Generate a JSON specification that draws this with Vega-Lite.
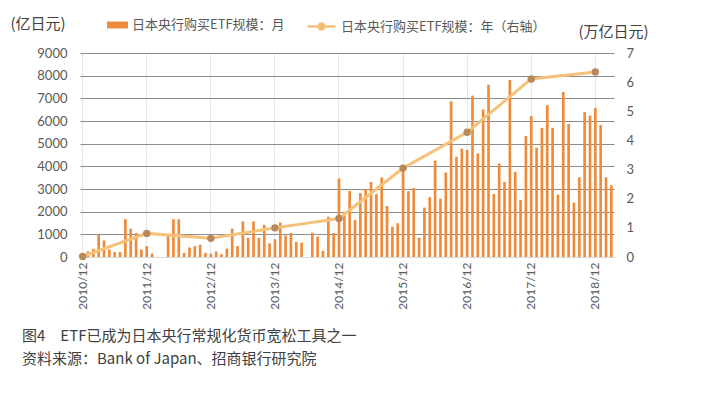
{
  "$schema": "https://vega.github.io/schema/vega-lite/v6.json",
  "width": 534,
  "height": 204,
  "autosize": {"type": "none"},
  "padding": {"left": 80, "top": 53, "right": 113, "bottom": 136},
  "background": "white",
  "config": {"view": {"stroke": null}, "font": "Noto Sans CJK SC"},
  "datasets": {
    "monthly": [
      {"month": "2010-12", "value": 140},
      {"month": "2011-01", "value": 250}, {"month": "2011-02", "value": 360}, {"month": "2011-03", "value": 970},
      {"month": "2011-04", "value": 730}, {"month": "2011-05", "value": 330}, {"month": "2011-06", "value": 220},
      {"month": "2011-07", "value": 220}, {"month": "2011-08", "value": 1670}, {"month": "2011-09", "value": 1250},
      {"month": "2011-10", "value": 1060}, {"month": "2011-11", "value": 330}, {"month": "2011-12", "value": 480},
      {"month": "2012-01", "value": 150}, {"month": "2012-02", "value": 0}, {"month": "2012-03", "value": 0},
      {"month": "2012-04", "value": 970}, {"month": "2012-05", "value": 1670}, {"month": "2012-06", "value": 1670},
      {"month": "2012-07", "value": 180}, {"month": "2012-08", "value": 420}, {"month": "2012-09", "value": 480},
      {"month": "2012-10", "value": 540}, {"month": "2012-11", "value": 180}, {"month": "2012-12", "value": 150},
      {"month": "2013-01", "value": 240}, {"month": "2013-02", "value": 120}, {"month": "2013-03", "value": 370},
      {"month": "2013-04", "value": 1250}, {"month": "2013-05", "value": 480}, {"month": "2013-06", "value": 1570},
      {"month": "2013-07", "value": 850}, {"month": "2013-08", "value": 1570}, {"month": "2013-09", "value": 850},
      {"month": "2013-10", "value": 1420}, {"month": "2013-11", "value": 600}, {"month": "2013-12", "value": 780},
      {"month": "2014-01", "value": 1520}, {"month": "2014-02", "value": 950}, {"month": "2014-03", "value": 1060},
      {"month": "2014-04", "value": 670}, {"month": "2014-05", "value": 630}, {"month": "2014-06", "value": 0},
      {"month": "2014-07", "value": 1070}, {"month": "2014-08", "value": 900}, {"month": "2014-09", "value": 270},
      {"month": "2014-10", "value": 1780}, {"month": "2014-11", "value": 1060}, {"month": "2014-12", "value": 3460},
      {"month": "2015-01", "value": 1870}, {"month": "2015-02", "value": 2910}, {"month": "2015-03", "value": 1630},
      {"month": "2015-04", "value": 2820}, {"month": "2015-05", "value": 2990}, {"month": "2015-06", "value": 3310},
      {"month": "2015-07", "value": 2780}, {"month": "2015-08", "value": 3510}, {"month": "2015-09", "value": 2250},
      {"month": "2015-10", "value": 1330}, {"month": "2015-11", "value": 1490}, {"month": "2015-12", "value": 4010},
      {"month": "2016-01", "value": 2900}, {"month": "2016-02", "value": 3040}, {"month": "2016-03", "value": 850},
      {"month": "2016-04", "value": 2180}, {"month": "2016-05", "value": 2640}, {"month": "2016-06", "value": 4250},
      {"month": "2016-07", "value": 2570}, {"month": "2016-08", "value": 3730}, {"month": "2016-09", "value": 6870},
      {"month": "2016-10", "value": 4420}, {"month": "2016-11", "value": 4780}, {"month": "2016-12", "value": 4720},
      {"month": "2017-01", "value": 7120}, {"month": "2017-02", "value": 4570}, {"month": "2017-03", "value": 6510},
      {"month": "2017-04", "value": 7600}, {"month": "2017-05", "value": 2780}, {"month": "2017-06", "value": 4130},
      {"month": "2017-07", "value": 3310}, {"month": "2017-08", "value": 7810}, {"month": "2017-09", "value": 3760},
      {"month": "2017-10", "value": 2520}, {"month": "2017-11", "value": 5340}, {"month": "2017-12", "value": 6220},
      {"month": "2018-01", "value": 4820}, {"month": "2018-02", "value": 5700}, {"month": "2018-03", "value": 6700},
      {"month": "2018-04", "value": 5700}, {"month": "2018-05", "value": 2750}, {"month": "2018-06", "value": 7280},
      {"month": "2018-07", "value": 5870}, {"month": "2018-08", "value": 2400}, {"month": "2018-09", "value": 3520},
      {"month": "2018-10", "value": 6390}, {"month": "2018-11", "value": 6240}, {"month": "2018-12", "value": 6580},
      {"month": "2019-01", "value": 5820}, {"month": "2019-02", "value": 3520}, {"month": "2019-03", "value": 3160}
    ],
    "annual": [
      {"month": "2010-12", "value": 0.02},
      {"month": "2011-12", "value": 0.81},
      {"month": "2012-12", "value": 0.64},
      {"month": "2013-12", "value": 1.0},
      {"month": "2014-12", "value": 1.32},
      {"month": "2015-12", "value": 3.05},
      {"month": "2016-12", "value": 4.28},
      {"month": "2017-12", "value": 6.11},
      {"month": "2018-12", "value": 6.35}
    ]
  },
  "title": {
    "text": "图4　ETF已成为日本央行常规化货币宽松工具之一",
    "subtitle": "资料来源：Bank of Japan、招商银行研究院",
    "orient": "bottom",
    "anchor": "start",
    "frame": "group",
    "dx": -58,
    "offset": 20,
    "font": "Noto Sans CJK SC",
    "fontSize": 15,
    "fontWeight": "normal",
    "color": "#404040",
    "subtitleFont": "Noto Sans CJK SC",
    "subtitleFontSize": 15,
    "subtitleColor": "#404040",
    "subtitlePadding": 8
  },
  "encoding": {
    "x": {
      "field": "month",
      "type": "ordinal",
      "scale": {"paddingInner": 0.5, "paddingOuter": 0.25},
      "axis": {
        "values": ["2010-12", "2011-12", "2012-12", "2013-12", "2014-12", "2015-12", "2016-12", "2017-12", "2018-12"],
        "labelExpr": "replace(datum.label, '-', '/')",
        "labelAngle": -90,
        "labelFont": "Lato",
        "labelFontSize": 12,
        "labelColor": "#595959",
        "labelPadding": 5,
        "ticks": false,
        "domainColor": "#d9d9d9",
        "grid": true,
        "gridColor": "#e6e6e6",
        "bandPosition": 0.5,
        "title": null
      }
    }
  },
  "layer": [
    {
      "data": {"name": "monthly"},
      "mark": {"type": "bar"},
      "encoding": {
        "y": {
          "field": "value",
          "type": "quantitative",
          "scale": {"domain": [0, 9000], "nice": false},
          "axis": {
            "orient": "left",
            "values": [0, 1000, 2000, 3000, 4000, 5000, 6000, 7000, 8000, 9000],
            "format": "d",
            "grid": true,
            "gridColor": "#8c8c8c",
            "domain": false,
            "ticks": false,
            "labelFont": "Lato",
            "labelFontSize": 13,
            "labelColor": "#595959",
            "labelPadding": 13,
            "title": "(亿日元)",
            "titleAngle": 0,
            "titleX": -70,
            "titleY": -30,
            "titleAlign": "left",
            "titleBaseline": "middle",
            "titleFont": "Noto Sans CJK SC",
            "titleFontSize": 15,
            "titleFontWeight": "normal",
            "titleColor": "#404040"
          }
        },
        "color": {
          "datum": "日本央行购买ETF规模：月",
          "scale": {"range": ["#EE8B3A"]},
          "legend": {
            "orient": "none",
            "legendX": 27,
            "legendY": -38.5,
            "padding": 0,
            "title": null,
            "symbolType": "M-1,-0.33L1,-0.33L1,0.33L-1,0.33Z",
            "symbolSize": 441,
            "symbolStrokeWidth": 0,
            "labelFont": "Noto Sans CJK SC",
            "labelFontSize": 13,
            "labelColor": "#595959",
            "labelOffset": 4,
            "labelLimit": 400
          }
        }
      }
    },
    {
      "data": {"name": "annual"},
      "encoding": {
        "y": {
          "field": "value",
          "type": "quantitative",
          "scale": {"domain": [0, 7], "nice": false},
          "axis": {
            "orient": "right",
            "values": [0, 1, 2, 3, 4, 5, 6, 7],
            "grid": false,
            "domain": false,
            "ticks": false,
            "labelFont": "Lato",
            "labelFontSize": 13,
            "labelColor": "#595959",
            "labelPadding": 12,
            "title": "(万亿日元)",
            "titleAngle": 0,
            "titleX": -36,
            "titleY": -22,
            "titleAlign": "left",
            "titleBaseline": "middle",
            "titleFont": "Noto Sans CJK SC",
            "titleFontSize": 15,
            "titleFontWeight": "normal",
            "titleColor": "#404040"
          }
        }
      },
      "layer": [
        {
          "mark": {"type": "line", "strokeWidth": 3},
          "encoding": {
            "color": {
              "datum": "日本央行购买ETF规模：年（右轴）",
              "scale": {"range": ["#F5C27A"]},
              "legend": {
                "orient": "none",
                "legendX": 226,
                "legendY": -42,
                "padding": 0,
                "title": null,
                "symbolType": "M-1,0L1,0M0.22,0A0.22,0.22 0 1,1 -0.22,0A0.22,0.22 0 1,1 0.22,0Z",
                "symbolSize": 784,
                "symbolStrokeWidth": 2.5,
                "labelFont": "Noto Sans CJK SC",
                "labelFontSize": 13,
                "labelColor": "#595959",
                "labelOffset": 4,
                "labelLimit": 400,
                "encode": {
                  "symbols": {
                    "update": {
                      "fill": {"value": "#B8895A"},
                      "stroke": {"value": "#F5C27A"},
                      "strokeWidth": {"value": 2.5}
                    }
                  }
                }
              }
            }
          }
        },
        {
          "mark": {"type": "point", "filled": true, "color": "#B8895A", "size": 55, "opacity": 1}
        }
      ]
    }
  ],
  "resolve": {"scale": {"y": "independent", "color": "independent"}}
}
